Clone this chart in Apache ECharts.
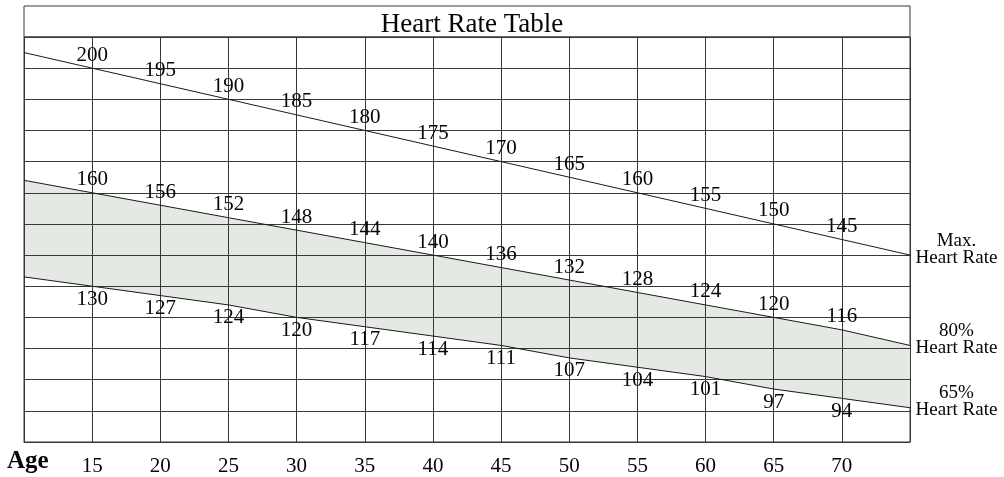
<!DOCTYPE html>
<html>
<head>
<meta charset="utf-8">
<script src="https://cdn.jsdelivr.net/npm/echarts@6/dist/echarts.min.js"></script>
<style>
  html, body { margin: 0; padding: 0; background: #ffffff; }
  #chart { width: 1004px; height: 477px; }
</style>
</head>
<body>
<div id="chart"></div>
<script>
// Ages along the table (10 and 75 are the frame edges, unlabeled)
const ages = [10, 15, 20, 25, 30, 35, 40, 45, 50, 55, 60, 65, 70, 75];
const ageTickLabels = [15, 20, 25, 30, 35, 40, 45, 50, 55, 60, 65, 70];
// Heart-rate values read from the table (edge values estimated from the drawn lines)
const maxHR = [205, 200, 195, 190, 185, 180, 175, 170, 165, 160, 155, 150, 145, 140];
const hr80 = [164, 160, 156, 152, 148, 144, 140, 136, 132, 128, 124, 120, 116, 111];
const hr65 = [133, 130, 127, 124, 120, 117, 114, 111, 107, 104, 101, 97, 94, 91];
const lineNames = ['Max.\nHeart Rate', '80%\nHeart Rate', '65%\nHeart Rate'];
const yMin = 80, yMax = 210, yStep = 10;

const FONT = 'Liberation Serif';
const INK = '#050505';
const GRID = '#383838';

function lineData(values, endText) {
  return values.map((v, i) => {
    const item = { value: v };
    if (!ageTickLabels.includes(ages[i])) {
      if (i === values.length - 1) {
        item.label = {
          show: true,
          formatter: endText,
          position: 'right',
          distance: 0,
          align: 'center',
          verticalAlign: 'middle',
          offset: [46, -6],
          fontFamily: FONT,
          fontSize: 19,
          lineHeight: 17,
          color: INK
        };
      } else {
        item.label = { show: false };
      }
    }
    return item;
  });
}

function valueSeries(name, values, endText, labelPos) {
  return {
    name: name,
    type: 'line',
    data: lineData(values, endText),
    symbol: 'circle',
    symbolSize: 1,
    itemStyle: { color: 'rgba(0,0,0,0)' },
    lineStyle: { color: '#1a1a1a', width: 1 },
    silent: true,
    z: 4,
    label: {
      show: true,
      position: labelPos,
      distance: 2,
      fontFamily: FONT,
      fontSize: 21,
      color: INK
    }
  };
}

const chart = echarts.init(document.getElementById('chart'), null, { renderer: 'canvas' });
chart.setOption({
  backgroundColor: '#ffffff',
  animation: false,
  title: {
    text: 'Heart Rate Table',
    left: 467,
    textAlign: 'center',
    top: 6,
    textStyle: { fontFamily: FONT, fontSize: 27, fontWeight: 'normal', color: INK }
  },
  graphic: [{
    type: 'rect',
    shape: { x: 24, y: 6, width: 886, height: 31 },
    style: { fill: 'none', stroke: GRID, lineWidth: 1 },
    silent: true
  }],
  grid: {
    left: 24, right: 94, top: 37, bottom: 35,
    show: true, borderColor: GRID, borderWidth: 1, backgroundColor: 'transparent'
  },
  xAxis: {
    type: 'category',
    data: ages.map(String),
    boundaryGap: false,
    z: 3,
    axisLine: { show: true, lineStyle: { color: GRID, width: 1 } },
    axisTick: { show: false },
    splitLine: { show: true, interval: 0, lineStyle: { color: GRID, width: 1 } },
    axisLabel: {
      interval: 0,
      margin: 14,
      fontFamily: FONT,
      fontSize: 21,
      color: INK,
      formatter: (v) => ageTickLabels.includes(Number(v)) ? v : ''
    },
    name: 'Age',
    nameLocation: 'start',
    nameGap: 17,
    nameTextStyle: {
      fontFamily: FONT, fontSize: 25, fontWeight: 'bold', color: INK,
      align: 'left', verticalAlign: 'top', padding: [7, 0, 0, 0]
    }
  },
  yAxis: {
    type: 'value',
    min: yMin, max: yMax, interval: yStep,
    z: 3,
    axisLine: { show: true, lineStyle: { color: GRID, width: 1 } },
    axisTick: { show: false },
    axisLabel: { show: false },
    splitLine: { show: true, lineStyle: { color: GRID, width: 1 } }
  },
  series: [
    {
      name: 'band-base',
      type: 'line',
      stack: 'band',
      data: hr65,
      symbol: 'none',
      silent: true,
      lineStyle: { width: 0, opacity: 0 },
      areaStyle: { opacity: 0 },
      z: 1
    },
    {
      name: 'band',
      type: 'line',
      stack: 'band',
      data: hr80.map((v, i) => v - hr65[i]),
      symbol: 'none',
      silent: true,
      lineStyle: { width: 0, opacity: 0 },
      areaStyle: { color: '#e4e9e3', opacity: 1 },
      z: 1
    },
    valueSeries('Max. Heart Rate', maxHR, lineNames[0], 'top'),
    valueSeries('80% Heart Rate', hr80, lineNames[1], 'top'),
    valueSeries('65% Heart Rate', hr65, lineNames[2], 'bottom')
  ]
});
</script>
</body>
</html>
